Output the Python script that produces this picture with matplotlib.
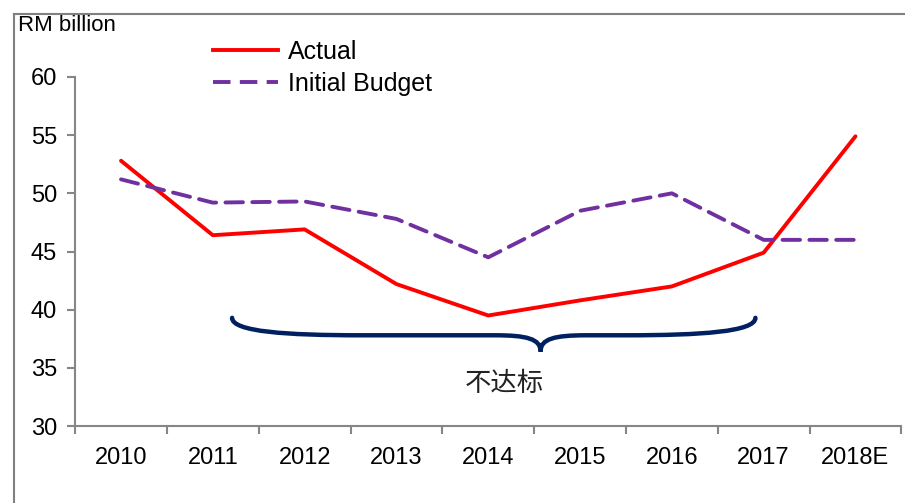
import numpy as np
import matplotlib
matplotlib.use("Agg")
from matplotlib import pyplot as plt
from matplotlib.path import Path
from matplotlib.patches import PathPatch
from matplotlib.lines import Line2D

plt.rcParams["font.family"] = ["Liberation Sans", "Noto Sans CJK SC", "DejaVu Sans"]

years = ["2010", "2011", "2012", "2013", "2014", "2015", "2016", "2017", "2018E"]
actual = [52.8, 46.4, 46.9, 42.2, 39.5, 40.8, 42.0, 44.9, 54.9]
budget = [51.2, 49.2, 49.3, 47.8, 44.5, 48.5, 50.0, 46.0, 46.0]
y_ticks = [30, 35, 40, 45, 50, 55, 60]

axis_grey = "#868686"
red = "#FF0000"
purple = "#7030A0"
navy = "#002060"
dash = (0, (4.5, 2.4))

fig = plt.figure(figsize=(9.05, 5.03), dpi=100)
ax = fig.add_axes([0.083, 0.153, 0.913, 0.694])

x = np.arange(len(years))
ax.plot(x, actual, color=red, lw=2.8, solid_capstyle="round", label="Actual")
ax.plot(x, budget, color=purple, lw=2.8, ls=dash,
        dash_capstyle="round", label="Initial Budget")

ax.set_xlim(-0.5, len(years) - 0.5)
ax.set_ylim(30, 60)
ax.set_yticks(y_ticks)
ax.set_xticks(x)
ax.set_xticklabels(years)
ax.set_xticks(np.arange(-0.5, len(years)), minor=True)

for side in ("top", "right"):
    ax.spines[side].set_visible(False)
for side in ("left", "bottom"):
    ax.spines[side].set_color(axis_grey)
    ax.spines[side].set_linewidth(1.5)

ax.tick_params(axis="y", length=6, width=1.5, color=axis_grey,
               labelsize=17, pad=7)
ax.tick_params(axis="x", which="major", length=0, labelsize=17, pad=15)
ax.tick_params(axis="x", which="minor", length=6, width=1.5, color=axis_grey)

# curly brace under the years that missed the budget
x0, x1, xm = 1.21, 6.91, 4.57
y_top, y_mid, y_tip = 39.3, 37.8, 36.4
verts = [(x0, y_top),
         (x0, y_mid + 0.3), (x0 + 0.6, y_mid), (x0 + 1.4, y_mid),
         (xm - 0.5, y_mid),
         (xm - 0.15, y_mid), (xm, y_mid - 0.3), (xm, y_tip),
         (xm, y_mid - 0.3), (xm + 0.15, y_mid), (xm + 0.5, y_mid),
         (x1 - 1.4, y_mid),
         (x1 - 0.6, y_mid), (x1, y_mid + 0.3), (x1, y_top)]
codes = [Path.MOVETO,
         Path.CURVE4, Path.CURVE4, Path.CURVE4,
         Path.LINETO,
         Path.CURVE4, Path.CURVE4, Path.CURVE4,
         Path.CURVE4, Path.CURVE4, Path.CURVE4,
         Path.LINETO,
         Path.CURVE4, Path.CURVE4, Path.CURVE4]
ax.add_patch(PathPatch(Path(verts, codes), facecolor="none", edgecolor=navy,
                       lw=3.2, capstyle="round", clip_on=False))
ax.text(4.18, 33.7, "不达标", ha="center", va="center", fontsize=19,
        color="#222222", family=["Noto Sans CJK SC", "DejaVu Sans"])

handles = [Line2D([], [], color=red, lw=2.8),
           Line2D([], [], color=purple, lw=2.8, ls=dash)]
fig.legend(handles, ["Actual", "Initial Budget"], loc="upper left",
           bbox_to_anchor=(0.21, 0.965), frameon=False, fontsize=18,
           handlelength=2.6, handletextpad=0.4, labelspacing=0.3)

fig.text(0.02, 0.95, "RM billion", fontsize=16, ha="left", va="center")

# outer frame of the exhibit
fig.add_artist(Line2D([0.0155, 0.0155], [0.0, 0.972], color="#808080", lw=1.5,
                      transform=fig.transFigure))
fig.add_artist(Line2D([0.0155, 1.0], [0.972, 0.972], color="#808080", lw=1.5,
                      transform=fig.transFigure))

fig.savefig("out.png", dpi=100)
